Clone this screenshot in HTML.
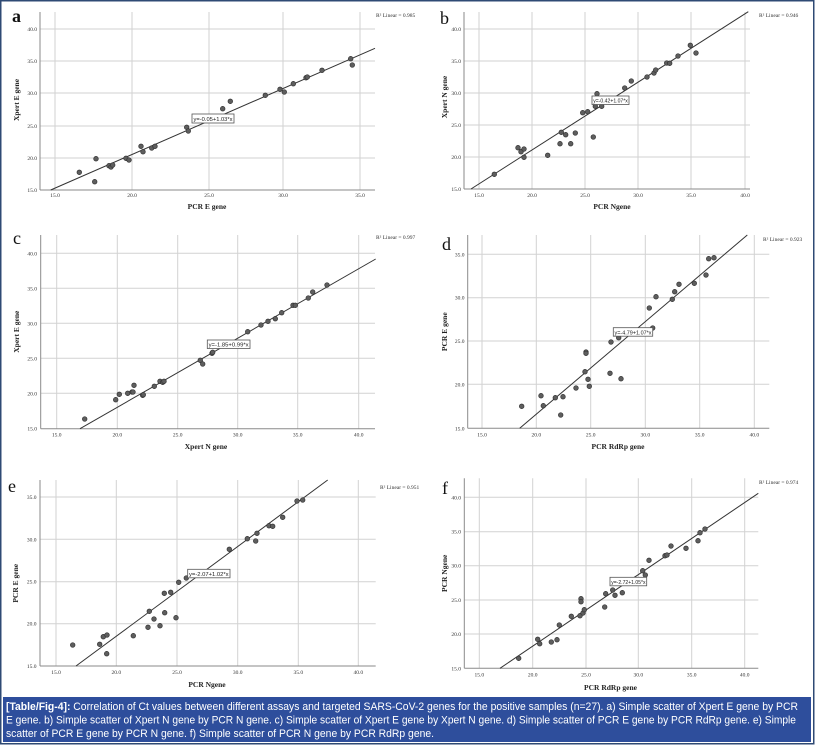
<!DOCTYPE html>
<html><head><meta charset="utf-8"><style>
html,body{margin:0;padding:0;background:#fff;}
svg{display:block;}
.g{stroke:#d2d2d2;stroke-width:1;}
.ax{stroke:#8a8a8a;stroke-width:1;}
.t{font-family:"Liberation Serif",serif;font-size:5.5px;fill:#333;}
.tl{font-family:"Liberation Serif",serif;font-size:5.5px;fill:#333;text-anchor:end;}
.tc{font-family:"Liberation Serif",serif;font-size:5.5px;fill:#333;text-anchor:middle;}
.at{font-family:"Liberation Serif",serif;font-size:7.5px;font-weight:bold;fill:#222;text-anchor:middle;}
.pl{font-family:"Liberation Serif",serif;font-size:18px;fill:#111;}
.eq{font-family:"Liberation Sans",sans-serif;font-size:5.5px;fill:#222;}
.bx{fill:#fff;stroke:#555;stroke-width:0.8;}
.rl{stroke:#333;stroke-width:1;fill:none;}
.p circle{fill:#5e5e5e;stroke:#333;stroke-width:0.7;}
.cap{font-family:"Liberation Sans",sans-serif;font-size:11px;fill:#fff;}
</style></head><body>
<svg width="816" height="745" viewBox="0 0 816 745" xmlns="http://www.w3.org/2000/svg">
<rect x="0" y="0" width="816" height="745" fill="#fff"/>

<!-- ============ Panel a ============ -->
<g>
<line class="g" x1="55" y1="12" x2="55" y2="190"/>
<line class="g" x1="132" y1="12" x2="132" y2="190"/>
<line class="g" x1="209" y1="12" x2="209" y2="190"/>
<line class="g" x1="283" y1="12" x2="283" y2="190"/>
<line class="g" x1="360" y1="12" x2="360" y2="190"/>
<line class="g" x1="40" y1="158" x2="375" y2="158"/>
<line class="g" x1="40" y1="126" x2="375" y2="126"/>
<line class="g" x1="40" y1="93" x2="375" y2="93"/>
<line class="g" x1="40" y1="61" x2="375" y2="61"/>
<line class="g" x1="40" y1="29" x2="375" y2="29"/>
<line class="ax" x1="40" y1="12" x2="40" y2="190"/>
<line class="ax" x1="40" y1="190" x2="375" y2="190"/>
<text class="tl" x="37" y="192">15.0</text>
<text class="tl" x="37" y="160">20.0</text>
<text class="tl" x="37" y="128">25.0</text>
<text class="tl" x="37" y="95">30.0</text>
<text class="tl" x="37" y="63">35.0</text>
<text class="tl" x="37" y="31">40.0</text>
<text class="tc" x="55" y="197">15.0</text>
<text class="tc" x="132" y="197">20.0</text>
<text class="tc" x="209" y="197">25.0</text>
<text class="tc" x="283" y="197">30.0</text>
<text class="tc" x="360" y="197">35.0</text>
<text class="at" x="207" y="209">PCR E gene</text>
<text class="at" transform="translate(19,100) rotate(-90)">Xpert E gene</text>
<text class="pl" x="12" y="22" font-weight="bold">a</text>
<text class="t" x="376" y="17">R² Linear = 0.985</text>
<line class="rl" x1="50.7" y1="190" x2="375" y2="48.3"/>
<g class="p">
<circle cx="79.3" cy="172.3" r="2.3"/><circle cx="94.7" cy="181.7" r="2.3"/><circle cx="96" cy="158.7" r="2.3"/>
<circle cx="109" cy="165.7" r="2.3"/><circle cx="111" cy="167" r="2.3"/><circle cx="112.7" cy="165" r="2.3"/>
<circle cx="126" cy="158.3" r="2.3"/><circle cx="129" cy="160" r="2.3"/><circle cx="141" cy="146.3" r="2.3"/>
<circle cx="143" cy="151.7" r="2.3"/><circle cx="151.7" cy="148" r="2.3"/><circle cx="155" cy="146.3" r="2.3"/>
<circle cx="186.7" cy="127.3" r="2.3"/><circle cx="188.3" cy="131" r="2.3"/><circle cx="222.7" cy="108.7" r="2.3"/>
<circle cx="230.3" cy="101.3" r="2.3"/><circle cx="265.3" cy="95.3" r="2.3"/><circle cx="280" cy="89.3" r="2.3"/>
<circle cx="284.3" cy="92" r="2.3"/><circle cx="293.3" cy="83.7" r="2.3"/><circle cx="306" cy="77.7" r="2.3"/>
<circle cx="307.3" cy="77" r="2.3"/><circle cx="322" cy="70.3" r="2.3"/><circle cx="350.7" cy="58.7" r="2.3"/>
<circle cx="352.3" cy="65" r="2.3"/>
</g>
<rect class="bx" x="192" y="114" width="42" height="9"/>
<text class="eq" x="193.5" y="120.8" textLength="39" lengthAdjust="spacingAndGlyphs">y=-0.05+1.03*x</text>
</g>

<!-- ============ Panel b ============ -->
<g>
<line class="g" x1="479" y1="12" x2="479" y2="189"/>
<line class="g" x1="532" y1="12" x2="532" y2="189"/>
<line class="g" x1="585" y1="12" x2="585" y2="189"/>
<line class="g" x1="638" y1="12" x2="638" y2="189"/>
<line class="g" x1="691" y1="12" x2="691" y2="189"/>
<line class="g" x1="745" y1="12" x2="745" y2="189"/>
<line class="g" x1="464" y1="157" x2="750" y2="157"/>
<line class="g" x1="464" y1="125" x2="750" y2="125"/>
<line class="g" x1="464" y1="93" x2="750" y2="93"/>
<line class="g" x1="464" y1="61" x2="750" y2="61"/>
<line class="g" x1="464" y1="29" x2="750" y2="29"/>
<line class="ax" x1="464" y1="12" x2="464" y2="189"/>
<line class="ax" x1="464" y1="189" x2="750" y2="189"/>
<text class="tl" x="461" y="191">15.0</text>
<text class="tl" x="461" y="159">20.0</text>
<text class="tl" x="461" y="127">25.0</text>
<text class="tl" x="461" y="95">30.0</text>
<text class="tl" x="461" y="63">35.0</text>
<text class="tl" x="461" y="31">40.0</text>
<text class="tc" x="479" y="197">15.0</text>
<text class="tc" x="532" y="197">20.0</text>
<text class="tc" x="585" y="197">25.0</text>
<text class="tc" x="638" y="197">30.0</text>
<text class="tc" x="691" y="197">35.0</text>
<text class="tc" x="745" y="197">40.0</text>
<text class="at" x="612" y="209">PCR Ngene</text>
<text class="at" transform="translate(447,97) rotate(-90)">Xpert N gene</text>
<text class="pl" x="440" y="24">b</text>
<text class="t" x="759" y="17">R² Linear = 0.946</text>
<line class="rl" x1="471" y1="189" x2="748.3" y2="11.7"/>
<g class="p">
<circle cx="494.3" cy="174.3" r="2.3"/><circle cx="518" cy="147.7" r="2.3"/><circle cx="521" cy="151.7" r="2.3"/>
<circle cx="524" cy="149" r="2.3"/><circle cx="524" cy="157.3" r="2.3"/><circle cx="547.7" cy="155.3" r="2.3"/>
<circle cx="560" cy="143.7" r="2.3"/><circle cx="561.3" cy="132.3" r="2.3"/><circle cx="565.7" cy="134.7" r="2.3"/>
<circle cx="570.7" cy="143.7" r="2.3"/><circle cx="575.3" cy="133" r="2.3"/><circle cx="582.7" cy="112.7" r="2.3"/>
<circle cx="587.7" cy="111.7" r="2.3"/><circle cx="593.3" cy="137" r="2.3"/><circle cx="595.3" cy="106.3" r="2.3"/>
<circle cx="597" cy="93.7" r="2.3"/><circle cx="601.7" cy="106.3" r="2.3"/><circle cx="624.7" cy="88" r="2.3"/>
<circle cx="631.3" cy="81" r="2.3"/><circle cx="647" cy="77" r="2.3"/><circle cx="654" cy="73" r="2.3"/>
<circle cx="655.7" cy="70" r="2.3"/><circle cx="666.7" cy="63" r="2.3"/><circle cx="669.7" cy="63.3" r="2.3"/>
<circle cx="678" cy="56" r="2.3"/><circle cx="690.3" cy="45.3" r="2.3"/><circle cx="696" cy="53" r="2.3"/>
</g>
<rect class="bx" x="592" y="96" width="37" height="8.5"/>
<text class="eq" x="593.2" y="102.6" textLength="34.6" lengthAdjust="spacingAndGlyphs">y=-0.42+1.07*x</text>
</g>

<!-- ============ Panel c ============ -->
<g>
<line class="g" x1="56.7" y1="235" x2="56.7" y2="428.7"/>
<line class="g" x1="117.3" y1="235" x2="117.3" y2="428.7"/>
<line class="g" x1="177.7" y1="235" x2="177.7" y2="428.7"/>
<line class="g" x1="237.7" y1="235" x2="237.7" y2="428.7"/>
<line class="g" x1="297.7" y1="235" x2="297.7" y2="428.7"/>
<line class="g" x1="358.7" y1="235" x2="358.7" y2="428.7"/>
<line class="g" x1="40.7" y1="393.3" x2="375" y2="393.3"/>
<line class="g" x1="40.7" y1="358.3" x2="375" y2="358.3"/>
<line class="g" x1="40.7" y1="323.3" x2="375" y2="323.3"/>
<line class="g" x1="40.7" y1="288.3" x2="375" y2="288.3"/>
<line class="g" x1="40.7" y1="253.3" x2="375" y2="253.3"/>
<line class="ax" x1="40.7" y1="235" x2="40.7" y2="428.7"/>
<line class="ax" x1="40.7" y1="428.7" x2="375" y2="428.7"/>
<text class="tl" x="37" y="430.7">15.0</text>
<text class="tl" x="37" y="395.3">20.0</text>
<text class="tl" x="37" y="360.3">25.0</text>
<text class="tl" x="37" y="325.3">30.0</text>
<text class="tl" x="37" y="290.3">35.0</text>
<text class="tl" x="37" y="255.3">40.0</text>
<text class="tc" x="56.7" y="436.5">15.0</text>
<text class="tc" x="117.3" y="436.5">20.0</text>
<text class="tc" x="177.7" y="436.5">25.0</text>
<text class="tc" x="237.7" y="436.5">30.0</text>
<text class="tc" x="297.7" y="436.5">35.0</text>
<text class="tc" x="358.7" y="436.5">40.0</text>
<text class="at" x="206" y="449">Xpert N gene</text>
<text class="at" transform="translate(19,331.7) rotate(-90)">Xpert E gene</text>
<text class="pl" x="13" y="244">c</text>
<text class="t" x="376" y="239">R² Linear = 0.997</text>
<line class="rl" x1="80" y1="428.7" x2="375.7" y2="259"/>
<g class="p">
<circle cx="84.7" cy="419" r="2.3"/><circle cx="115.7" cy="399.7" r="2.3"/><circle cx="119.3" cy="394.3" r="2.3"/>
<circle cx="127.7" cy="393.3" r="2.3"/><circle cx="132" cy="392" r="2.3"/><circle cx="133" cy="392" r="2.3"/>
<circle cx="134" cy="385.3" r="2.3"/><circle cx="142.7" cy="395.3" r="2.3"/><circle cx="143.3" cy="394.7" r="2.3"/>
<circle cx="154.3" cy="386.3" r="2.3"/><circle cx="160" cy="381.3" r="2.3"/><circle cx="162.7" cy="382.3" r="2.3"/>
<circle cx="164" cy="381.3" r="2.3"/><circle cx="200.3" cy="360.3" r="2.3"/><circle cx="202.7" cy="364" r="2.3"/>
<circle cx="212" cy="353.3" r="2.3"/><circle cx="212.7" cy="352.3" r="2.3"/><circle cx="247.7" cy="331.7" r="2.3"/>
<circle cx="261" cy="325" r="2.3"/><circle cx="268" cy="321.3" r="2.3"/><circle cx="275.3" cy="318.7" r="2.3"/>
<circle cx="281.7" cy="312.7" r="2.3"/><circle cx="293" cy="305.3" r="2.3"/><circle cx="295.3" cy="305.3" r="2.3"/>
<circle cx="308.3" cy="298" r="2.3"/><circle cx="312.7" cy="292" r="2.3"/><circle cx="327" cy="285" r="2.3"/>
</g>
<rect class="bx" x="207.3" y="340" width="42.7" height="8.5"/>
<text class="eq" x="208.6" y="346.6" textLength="40" lengthAdjust="spacingAndGlyphs">y=-1.85+0.99*x</text>
</g>

<!-- ============ Panel d ============ -->
<g>
<line class="g" x1="482" y1="235" x2="482" y2="428.3"/>
<line class="g" x1="536.3" y1="235" x2="536.3" y2="428.3"/>
<line class="g" x1="590.7" y1="235" x2="590.7" y2="428.3"/>
<line class="g" x1="645.3" y1="235" x2="645.3" y2="428.3"/>
<line class="g" x1="699.7" y1="235" x2="699.7" y2="428.3"/>
<line class="g" x1="754.3" y1="235" x2="754.3" y2="428.3"/>
<line class="g" x1="467.7" y1="384.3" x2="769.3" y2="384.3"/>
<line class="g" x1="467.7" y1="341" x2="769.3" y2="341"/>
<line class="g" x1="467.7" y1="297.7" x2="769.3" y2="297.7"/>
<line class="g" x1="467.7" y1="254.3" x2="769.3" y2="254.3"/>
<line class="ax" x1="467.7" y1="235" x2="467.7" y2="428.3"/>
<line class="ax" x1="467.7" y1="428.3" x2="769.3" y2="428.3"/>
<text class="tl" x="464.5" y="430.3">15.0</text>
<text class="tl" x="464.5" y="386.3">20.0</text>
<text class="tl" x="464.5" y="343">25.0</text>
<text class="tl" x="464.5" y="299.7">30.0</text>
<text class="tl" x="464.5" y="256.3">35.0</text>
<text class="tc" x="482" y="436.5">15.0</text>
<text class="tc" x="536.3" y="436.5">20.0</text>
<text class="tc" x="590.7" y="436.5">25.0</text>
<text class="tc" x="645.3" y="436.5">30.0</text>
<text class="tc" x="699.7" y="436.5">35.0</text>
<text class="tc" x="754.3" y="436.5">40.0</text>
<text class="at" x="618" y="449">PCR RdRp gene</text>
<text class="at" transform="translate(447,331.7) rotate(-90)">PCR E gene</text>
<text class="pl" x="442" y="250">d</text>
<text class="t" x="763" y="241">R² Linear = 0.923</text>
<line class="rl" x1="519.7" y1="428.3" x2="747.3" y2="235"/>
<g class="p">
<circle cx="521.7" cy="406.3" r="2.3"/><circle cx="541" cy="395.7" r="2.3"/><circle cx="543.3" cy="405.7" r="2.3"/>
<circle cx="555.3" cy="397.7" r="2.3"/><circle cx="560.7" cy="415" r="2.3"/><circle cx="563" cy="396.7" r="2.3"/>
<circle cx="576" cy="388" r="2.3"/><circle cx="585" cy="371.7" r="2.3"/><circle cx="586" cy="352" r="2.3"/>
<circle cx="586" cy="353.3" r="2.3"/><circle cx="588" cy="379.3" r="2.3"/><circle cx="589.3" cy="386.3" r="2.3"/>
<circle cx="610" cy="373.3" r="2.3"/><circle cx="611" cy="342" r="2.3"/><circle cx="618.7" cy="337.7" r="2.3"/>
<circle cx="621" cy="378.7" r="2.3"/><circle cx="649.3" cy="308" r="2.3"/><circle cx="652.7" cy="328" r="2.3"/>
<circle cx="656" cy="296.7" r="2.3"/><circle cx="672.3" cy="299.3" r="2.3"/><circle cx="674.7" cy="291.7" r="2.3"/>
<circle cx="679" cy="284.3" r="2.3"/><circle cx="694.3" cy="283.3" r="2.3"/><circle cx="706" cy="275" r="2.3"/>
<circle cx="708.7" cy="258.7" r="2.3"/><circle cx="714" cy="257.7" r="2.3"/>
</g>
<rect class="bx" x="613.3" y="327.7" width="39.4" height="8.5"/>
<text class="eq" x="614.5" y="334.3" textLength="37" lengthAdjust="spacingAndGlyphs">y=-4.79+1.07*x</text>
</g>

<!-- ============ Panel e ============ -->
<g>
<line class="g" x1="56" y1="480" x2="56" y2="666"/>
<line class="g" x1="116.3" y1="480" x2="116.3" y2="666"/>
<line class="g" x1="177" y1="480" x2="177" y2="666"/>
<line class="g" x1="237.7" y1="480" x2="237.7" y2="666"/>
<line class="g" x1="298.3" y1="480" x2="298.3" y2="666"/>
<line class="g" x1="358.3" y1="480" x2="358.3" y2="666"/>
<line class="g" x1="40" y1="623.7" x2="375.7" y2="623.7"/>
<line class="g" x1="40" y1="581.7" x2="375.7" y2="581.7"/>
<line class="g" x1="40" y1="539.3" x2="375.7" y2="539.3"/>
<line class="g" x1="40" y1="497" x2="375.7" y2="497"/>
<line class="ax" x1="40" y1="480" x2="40" y2="666"/>
<line class="ax" x1="40" y1="666" x2="375.7" y2="666"/>
<text class="tl" x="36.5" y="668">15.0</text>
<text class="tl" x="36.5" y="625.7">20.0</text>
<text class="tl" x="36.5" y="583.7">25.0</text>
<text class="tl" x="36.5" y="541.3">30.0</text>
<text class="tl" x="36.5" y="499">35.0</text>
<text class="tc" x="56" y="674">15.0</text>
<text class="tc" x="116.3" y="674">20.0</text>
<text class="tc" x="177" y="674">25.0</text>
<text class="tc" x="237.7" y="674">30.0</text>
<text class="tc" x="298.3" y="674">35.0</text>
<text class="tc" x="358.3" y="674">40.0</text>
<text class="at" x="207" y="687">PCR Ngene</text>
<text class="at" transform="translate(18,583.3) rotate(-90)">PCR E gene</text>
<text class="pl" x="8" y="492">e</text>
<text class="t" x="380" y="489">R² Linear = 0.951</text>
<line class="rl" x1="76" y1="666" x2="327.7" y2="480"/>
<g class="p">
<circle cx="72.7" cy="645" r="2.3"/><circle cx="99.7" cy="644.3" r="2.3"/><circle cx="103.3" cy="636.7" r="2.3"/>
<circle cx="107" cy="635" r="2.3"/><circle cx="106.7" cy="653.7" r="2.3"/><circle cx="133.3" cy="635.7" r="2.3"/>
<circle cx="148" cy="627.3" r="2.3"/><circle cx="149.3" cy="611.3" r="2.3"/><circle cx="154" cy="619" r="2.3"/>
<circle cx="160" cy="625.7" r="2.3"/><circle cx="164.7" cy="612.7" r="2.3"/><circle cx="176" cy="617.7" r="2.3"/>
<circle cx="164.3" cy="593.3" r="2.3"/><circle cx="170.7" cy="592.3" r="2.3"/><circle cx="178.7" cy="582.3" r="2.3"/>
<circle cx="186.3" cy="578" r="2.3"/><circle cx="229.3" cy="549.3" r="2.3"/><circle cx="247.3" cy="538.7" r="2.3"/>
<circle cx="255.7" cy="541" r="2.3"/><circle cx="257" cy="533.3" r="2.3"/><circle cx="269" cy="525.7" r="2.3"/>
<circle cx="272.7" cy="526.3" r="2.3"/><circle cx="282.7" cy="517.3" r="2.3"/><circle cx="297" cy="501" r="2.3"/>
<circle cx="302.7" cy="500" r="2.3"/>
</g>
<rect class="bx" x="187.7" y="569.3" width="42.3" height="8.5"/>
<text class="eq" x="189" y="575.9" textLength="39.6" lengthAdjust="spacingAndGlyphs">y=-2.07+1.02*x</text>
</g>

<!-- ============ Panel f ============ -->
<g>
<line class="g" x1="479.3" y1="478.3" x2="479.3" y2="668.3"/>
<line class="g" x1="532.7" y1="478.3" x2="532.7" y2="668.3"/>
<line class="g" x1="586" y1="478.3" x2="586" y2="668.3"/>
<line class="g" x1="638.3" y1="478.3" x2="638.3" y2="668.3"/>
<line class="g" x1="691.7" y1="478.3" x2="691.7" y2="668.3"/>
<line class="g" x1="744.7" y1="478.3" x2="744.7" y2="668.3"/>
<line class="g" x1="464.3" y1="634" x2="758.3" y2="634"/>
<line class="g" x1="464.3" y1="600" x2="758.3" y2="600"/>
<line class="g" x1="464.3" y1="565.7" x2="758.3" y2="565.7"/>
<line class="g" x1="464.3" y1="531.7" x2="758.3" y2="531.7"/>
<line class="g" x1="464.3" y1="497.3" x2="758.3" y2="497.3"/>
<line class="ax" x1="464.3" y1="478.3" x2="464.3" y2="668.3"/>
<line class="ax" x1="464.3" y1="668.3" x2="758.3" y2="668.3"/>
<text class="tl" x="461" y="670.3">15.0</text>
<text class="tl" x="461" y="636">20.0</text>
<text class="tl" x="461" y="602">25.0</text>
<text class="tl" x="461" y="567.7">30.0</text>
<text class="tl" x="461" y="533.7">35.0</text>
<text class="tl" x="461" y="499.3">40.0</text>
<text class="tc" x="479.3" y="676.5">15.0</text>
<text class="tc" x="532.7" y="676.5">20.0</text>
<text class="tc" x="586" y="676.5">25.0</text>
<text class="tc" x="638.3" y="676.5">30.0</text>
<text class="tc" x="691.7" y="676.5">35.0</text>
<text class="tc" x="744.7" y="676.5">40.0</text>
<text class="at" x="610.5" y="690">PCR RdRp gene</text>
<text class="at" transform="translate(447,573.3) rotate(-90)">PCR Ngene</text>
<text class="pl" x="442" y="494">f</text>
<text class="t" x="759" y="484">R² Linear = 0.974</text>
<line class="rl" x1="500" y1="668.3" x2="758.3" y2="493.3"/>
<g class="p">
<circle cx="518.7" cy="658.3" r="2.3"/><circle cx="537.7" cy="639.3" r="2.3"/><circle cx="539.7" cy="643.7" r="2.3"/>
<circle cx="551.3" cy="642" r="2.3"/><circle cx="557" cy="639.7" r="2.3"/><circle cx="559.3" cy="625" r="2.3"/>
<circle cx="571.3" cy="616.3" r="2.3"/><circle cx="580" cy="615.7" r="2.3"/><circle cx="581" cy="598.7" r="2.3"/>
<circle cx="581" cy="601.7" r="2.3"/><circle cx="583" cy="613" r="2.3"/><circle cx="584.3" cy="609.7" r="2.3"/>
<circle cx="604.7" cy="607" r="2.3"/><circle cx="605.7" cy="593.7" r="2.3"/><circle cx="612.7" cy="590" r="2.3"/>
<circle cx="615" cy="595.3" r="2.3"/><circle cx="622.3" cy="592.7" r="2.3"/><circle cx="642.7" cy="570.7" r="2.3"/>
<circle cx="645.3" cy="575" r="2.3"/><circle cx="649" cy="560.3" r="2.3"/><circle cx="665" cy="555.7" r="2.3"/>
<circle cx="667" cy="555" r="2.3"/><circle cx="671" cy="546" r="2.3"/><circle cx="686" cy="548.3" r="2.3"/>
<circle cx="698" cy="540.7" r="2.3"/><circle cx="700" cy="532.7" r="2.3"/><circle cx="705" cy="529" r="2.3"/>
</g>
<rect class="bx" x="610" y="577.3" width="36.7" height="8.5"/>
<text class="eq" x="611.2" y="583.9" textLength="34.3" lengthAdjust="spacingAndGlyphs">y=-2.72+1.05*x</text>
</g>

<!-- ============ Caption ============ -->
<rect x="3" y="697" width="808" height="45" fill="#2e4e9c"/>
<text class="cap" x="6" y="710" textLength="792" lengthAdjust="spacingAndGlyphs"><tspan font-weight="bold">[Table/Fig-4]:</tspan> Correlation of Ct values between different assays and targeted SARS-CoV-2 genes for the positive samples (n=27). a) Simple scatter of Xpert E gene by PCR</text>
<text class="cap" x="6" y="723.5" textLength="790" lengthAdjust="spacingAndGlyphs">E gene. b) Simple scatter of Xpert N gene by PCR N gene. c) Simple scatter of Xpert E gene by Xpert N gene. d) Simple scatter of PCR E gene by PCR RdRp gene. e) Simple</text>
<text class="cap" x="6" y="737" textLength="428" lengthAdjust="spacingAndGlyphs">scatter of PCR E gene by PCR N gene. f) Simple scatter of PCR N gene by PCR RdRp gene.</text>

<!-- outer border -->
<rect x="0.75" y="0.75" width="813" height="743" fill="none" stroke="#2f4a74" stroke-width="1.5"/>
</svg>
</body></html>
